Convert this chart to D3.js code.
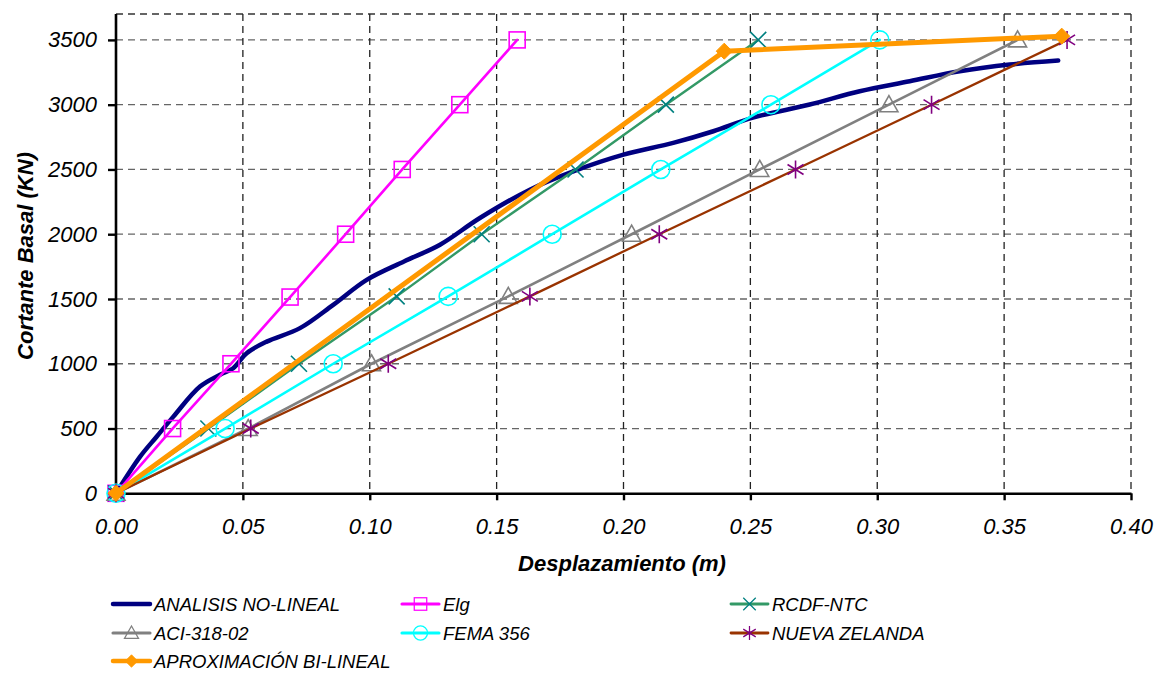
<!DOCTYPE html>
<html><head><meta charset="utf-8">
<script src="https://cdn.jsdelivr.net/npm/d3@7"></script>
<style>body{margin:0;background:#fff}svg{display:block}text{font-family:"Liberation Sans",Arial,sans-serif}</style>
</head><body><svg id="c" width="1161" height="675"></svg>
<script>
const xTicks = [0,0.05,0.10,0.15,0.20,0.25,0.30,0.35,0.40];
const yTicks = [0,500,1000,1500,2000,2500,3000,3500];

const noLinealX = [0,0.0095,0.016,0.0226,0.0331,0.041,0.0462,0.0515,0.0594,0.0725,0.0856,0.0988,0.1135,0.1277,0.1434,0.1631,0.1802,0.200,0.2196,0.2354,0.2510,0.2734,0.2931,0.3128,0.3325,0.3522,0.3713];
const noLinealY = [0,283,437,592,824,915,966,1082,1171,1275,1455,1648,1790,1919,2125,2344,2485,2614,2705,2795,2900,3001,3104,3181,3258,3310,3341];

const elgX = [0,0.0223,0.0453,0.0686,0.0905,0.1128,0.1355,0.1581];
const elgY = [0,500,1000,1515,2000,2500,3000,3500];

const rcdfX = [0,0.0364,0.0721,0.1106,0.1441,0.1811,0.2167,0.2531];
const rcdfY = [0,500,1000,1520,2000,2500,3000,3500];

const aciX = [0,0.0521,0.1007,0.1546,0.2032,0.2537,0.3046,0.3553];
const aciY = [0,500,1000,1520,2000,2500,3000,3500];

const femaX = [0,0.0430,0.0856,0.1309,0.1719,0.2147,0.2581,0.3010];
const femaY = [0,500,1000,1520,2000,2500,3000,3500];

const nzX = [0,0.0531,0.1073,0.1631,0.2141,0.2678,0.3214,0.3748];
const nzY = [0,500,1000,1520,2000,2500,3000,3500];

const biX = [0,0.2397,0.3727];
const biY = [0,3413,3529];

const seriesNames = ["ANALISIS NO-LINEAL","Elg","RCDF-NTC","ACI-318-02","FEMA 356","NUEVA ZELANDA","APROXIMACIÓN BI-LINEAL"];

const svg = d3.select("#c");
const x = d3.scaleLinear().domain([0,0.40]).range([116,1131]);
const y = d3.scaleLinear().domain([0,3700]).range([493.3,14]);

// grid
const g = svg.append("g");
g.selectAll(".hg").data(yTicks.filter(d=>d>0).concat([3700])).enter().append("line")
 .attr("x1",116).attr("x2",1131).attr("y1",d=>y(d)).attr("y2",d=>y(d))
 .attr("stroke",d=>d===3700?"#333":"#666").attr("stroke-width",1.3).attr("stroke-dasharray","7,5");
g.selectAll(".vg").data(xTicks.filter(d=>d>0)).enter().append("line")
 .attr("x1",d=>x(d)).attr("x2",d=>x(d)).attr("y1",14).attr("y2",493)
 .attr("stroke","#222").attr("stroke-width",1.3).attr("stroke-dasharray","7,5");

// axes
const xAxis = d3.axisBottom(x).tickValues(xTicks).tickFormat(d3.format(".2f")).tickSizeOuter(0).tickSizeInner(7).tickPadding(18);
const yAxis = d3.axisLeft(y).tickValues(yTicks).tickFormat(d=>d).tickSizeOuter(0).tickSizeInner(8).tickPadding(11);
const gx = svg.append("g").attr("transform","translate(0,493.3)").call(xAxis);
const gy = svg.append("g").attr("transform","translate(116,0)").call(yAxis);
[gx,gy].forEach(a=>{
  a.select(".domain").attr("stroke","#000").attr("stroke-width",2.6);
  a.selectAll(".tick line").attr("stroke","#000").attr("stroke-width",2.4);
  a.selectAll(".tick text").attr("font-size",22).attr("font-style","italic").attr("fill","#000").attr("font-family","'Liberation Sans',Arial,sans-serif");
});
gy.select(".domain").attr("d","M0,14V493.3");

svg.append("text").attr("x",622).attr("y",571).attr("text-anchor","middle")
 .attr("font-size",22).attr("font-weight","bold").attr("font-style","italic").text("Desplazamiento (m)");
svg.append("text").attr("transform","translate(33,256) rotate(-90)").attr("text-anchor","middle")
 .attr("font-size",22).attr("font-weight","bold").attr("font-style","italic").text("Cortante Basal (KN)");

// marker drawers
function markSquare(sel,c){sel.append("rect").attr("x",-8).attr("y",-8).attr("width",16).attr("height",16).attr("fill","none").attr("stroke",c).attr("stroke-width",1.6);}
function markX(sel,c){sel.append("path").attr("d","M-8,-8L8,8M-8,8L8,-8").attr("stroke",c).attr("stroke-width",1.6).attr("fill","none");}
function markTri(sel,c){sel.append("path").attr("d","M0,-9L9,7H-9Z").attr("fill","none").attr("stroke",c).attr("stroke-width",1.6);}
function markCircle(sel,c){sel.append("circle").attr("r",9).attr("fill","none").attr("stroke",c).attr("stroke-width",1.6);}
function markStar(sel,c){sel.append("path").attr("d","M0,-9V9M-8,-5L8,5M-8,5L8,-5").attr("stroke",c).attr("stroke-width",1.6).attr("fill","none");}
function markDiamond(sel,c){sel.append("path").attr("d","M0,-8L8,0L0,8L-8,0Z").attr("fill",c).attr("stroke",c);}

const series = [
 {name:seriesNames[0],xs:noLinealX,ys:noLinealY,color:"#000080",w:4.5,curve:d3.curveCatmullRom.alpha(0.5),marker:null},
 {name:seriesNames[1],xs:elgX,ys:elgY,color:"#FF00FF",w:2.6,curve:d3.curveLinear,marker:markSquare,mc:"#FF00FF"},
 {name:seriesNames[2],xs:rcdfX,ys:rcdfY,color:"#339966",w:2.4,curve:d3.curveLinear,marker:markX,mc:"#008080"},
 {name:seriesNames[3],xs:aciX,ys:aciY,color:"#808080",w:2.6,curve:d3.curveLinear,marker:markTri,mc:"#808080"},
 {name:seriesNames[4],xs:femaX,ys:femaY,color:"#00FFFF",w:2.6,curve:d3.curveLinear,marker:markCircle,mc:"#00FFFF"},
 {name:seriesNames[5],xs:nzX,ys:nzY,color:"#993300",w:2.3,curve:d3.curveLinear,marker:markStar,mc:"#800080"},
 {name:seriesNames[6],xs:biX,ys:biY,color:"#FF9900",w:5,curve:d3.curveLinear,marker:markDiamond,mc:"#FF9900"}
];

const plot = svg.append("g");
series.forEach(s=>{
  const pts = s.xs.map((v,i)=>[v,s.ys[i]]);
  plot.append("path").datum(pts).attr("fill","none").attr("stroke",s.color).attr("stroke-width",s.w)
   .attr("stroke-linejoin","round").attr("stroke-linecap","round")
   .attr("d",d3.line().x(d=>x(d[0])).y(d=>y(d[1])).curve(s.curve));
  if(s.marker){
    pts.forEach(p=>{
      const m = plot.append("g").attr("transform",`translate(${x(p[0])},${y(p[1])})`);
      s.marker(m,s.mc);
    });
  }
});

// legend
const legPos = [[113,604],[402,604],[731,604],[113,633],[402,633],[731,633],[113,661]];
series.forEach((s,i)=>{
  const [lx,ly] = legPos[i];
  const lg = svg.append("g");
  lg.append("line").attr("x1",lx).attr("x2",lx+37).attr("y1",ly).attr("y2",ly).attr("stroke",s.color)
    .attr("stroke-width",Math.min(s.w+0.5,4.5)).attr("stroke-linecap","round");
  if(s.marker){
    const m = lg.append("g").attr("transform",`translate(${lx+18.5},${ly}) scale(0.78)`);
    s.marker(m,s.mc);
  }
  lg.append("text").attr("x",lx+41).attr("y",ly+7).attr("font-size",18.5).attr("font-style","italic").text(s.name);
});
</script></body></html>
